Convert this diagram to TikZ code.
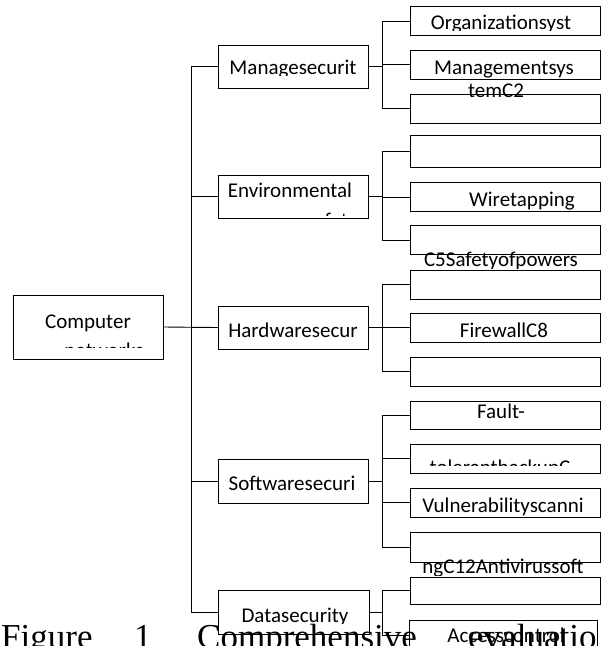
\documentclass[tikz,border=0pt]{standalone}
\usepackage{fontspec}
\setmainfont{Carlito}
\newfontfamily\capfont{Liberation Serif}
\usepackage{tikz}
\usetikzlibrary{calc}
\tikzset{
    box/.style={draw, line width=0.9pt, minimum width=150pt, minimum height=43pt, inner sep=0pt},
    leaf/.style={draw, line width=0.9pt, minimum width=190pt, minimum height=29pt, inner sep=0pt},
    txt/.style={anchor=base, inner sep=0pt, font=\fontsize{21}{25}\selectfont},
    captxt/.style={anchor=base west, inner sep=0pt, font=\capfont\fontsize{35}{40}\selectfont},
    wire/.style={line width=0.9pt}
}
% text cut off at a given depth, as in the boxes of the figure
\newcommand{\cuttxt}[5]{%
    \begin{scope}
        \clip (0,0) rectangle (601,#4);
        \node[txt] (#1) at (#2,#3) {#5};
    \end{scope}}

\begin{document}
\begin{tikzpicture}[x=1pt,y=-1pt]
        \path[use as bounding box] (0,0) rectangle (601,646);
        \clip (0,0) rectangle (601,646);

        \coordinate (tk) at (191,0);
        \coordinate (bk) at (382,0);

        \node[box, minimum height=64pt] (root) at (88,327) {};

        \node[box] (ms) at (293,66.5) {};
        \node[box] (es) at (293,196.5) {};
        \node[box] (hs) at (293,327.5) {};
        \node[box, minimum height=44pt] (ss) at (293,481) {};
        \node[box, minimum width=151pt, minimum height=44pt] (ds) at (293.5,612) {};

        \node[leaf] (ms1) at (505,21) {};
        \node[leaf] (ms2) at (505,64.5) {};
        \node[leaf] (ms3) at (505,108.5) {};
        \node[leaf, minimum height=32pt] (es1) at (505,151) {};
        \node[leaf] (es2) at (505,197) {};
        \node[leaf] (es3) at (505,240) {};
        \node[leaf] (hs1) at (505,284.5) {};
        \node[leaf] (hs2) at (505,327.5) {};
        \node[leaf] (hs3) at (505,371.5) {};
        \node[leaf, minimum height=28pt] (ss1) at (505,415) {};
        \node[leaf] (ss2) at (505,458.5) {};
        \node[leaf] (ss3) at (505,502.5) {};
        \node[leaf, minimum height=30pt] (ss4) at (505,547) {};
        \node[leaf, minimum height=27pt] (ds1) at (505,590.5) {};
        \node[leaf, minimum width=188pt, minimum height=30pt] (ds2) at (503.5,635) {};

        % trunk
        \draw[wire] (root.east) -- (hs.west);
        \draw[wire] (ms.west) -- (ms.west -| tk) -- (ds.west -| tk) -- (ds.west);
        \foreach \n in {es,hs,ss}
            \draw[wire] (\n.west) -- (\n.west -| tk);

        % brackets
        \foreach \n/\a/\b in {ms/ms1/ms3,es/es1/es3,hs/hs1/hs3,ss/ss1/ss4,ds/ds1/ds2}{
            \draw[wire] (\n.east) -- (\n.east -| bk);
            \draw[wire] (\a.west) -- (\a.west -| bk) -- (\b.west -| bk) -- (\b.west);
        }
        \foreach \n in {ms2,es2,hs2,ss2,ss3}
            \draw[wire] (\n.west) -- (\n.west -| bk);

        % texts
        \node[txt] (t1) at (88,328) {Computer};
        \cuttxt{t2}{104}{357.5}{347}{networks}
        \cuttxt{t3}{293}{74.5}{75.5}{Managesecurit}
        \node[txt] (t4) at (290,197) {Environmental};
        \cuttxt{t5}{332}{227.5}{215}{safety}
        \node[txt] (t6) at (293,337) {Hardwaresecur};
        \node[txt] (t7) at (292,490) {Softwaresecuri};
        \cuttxt{t8}{295}{622}{623.5}{Datasecurity}

        \cuttxt{u1}{501}{29}{30.5}{Organizationsyst}
        \node[txt] (u2) at (504,74) {Managementsys};
        \node[txt] (u3) at (496,97) {temC2};
        \cuttxt{u4}{522}{206}{210}{Wiretapping}
        \cuttxt{u5}{501}{266}{268.5}{C5Safetyofpowers}
        \node[txt] (u6) at (504,337) {FirewallC8};
        \node[txt] (u7) at (501,418) {Fault-};
        \cuttxt{u8}{500}{474.5}{465}{tolerantbackupC}
        \cuttxt{u9}{503}{512}{515}{Vulnerabilityscanni}
        \cuttxt{u10}{503}{573}{575.5}{ngC12Antivirussoft}
        \node[txt] (u11) at (506,642) {Accesscontrol};

        % caption
        \node[captxt] (f1) at (1,648) {Figure};
        \node[captxt] (f2) at (134,648) {1};
        \node[captxt] (f3) at (197,648) {Comprehensive};
        \node[captxt] (f4) at (468,648) {evaluatio};
    \end{tikzpicture}
\end{document}
